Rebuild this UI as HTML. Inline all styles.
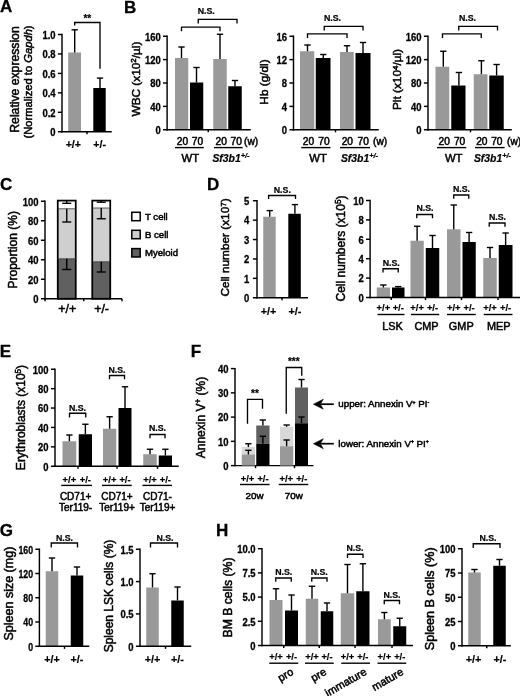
<!DOCTYPE html>
<html lang="en"><head><meta charset="utf-8"><title>Figure</title>
<style>
html,body{margin:0;padding:0;background:#fff;}
body{width:520px;height:696px;overflow:hidden;}
svg{display:block;font-family:"Liberation Sans",Arial,Helvetica,sans-serif;fill:#000;}
</style></head><body>
<svg width="520" height="696" viewBox="0 0 520 696">
<defs><filter id="soft" x="0" y="0" width="520" height="696" filterUnits="userSpaceOnUse"><feGaussianBlur stdDeviation="0.32"/></filter></defs>
<rect width="520" height="696" fill="#fff"/>
<g filter="url(#soft)">
<rect width="520" height="696" fill="#fff"/>
<rect x="68.20" y="52.50" width="12.80" height="79.25" fill="#999999"/>
<rect x="93.30" y="88.00" width="12.40" height="43.75" fill="#000000"/>
<rect x="175.00" y="58.00" width="13.25" height="71.75" fill="#999999"/>
<rect x="190.00" y="82.50" width="13.25" height="47.25" fill="#000000"/>
<rect x="213.25" y="59.00" width="13.50" height="70.75" fill="#999999"/>
<rect x="228.25" y="86.25" width="13.50" height="43.50" fill="#000000"/>
<rect x="300.00" y="51.25" width="14.25" height="78.50" fill="#999999"/>
<rect x="315.75" y="58.00" width="14.75" height="71.75" fill="#000000"/>
<rect x="340.00" y="52.00" width="13.75" height="77.75" fill="#999999"/>
<rect x="355.50" y="53.00" width="15.00" height="76.75" fill="#000000"/>
<rect x="435.50" y="66.75" width="13.75" height="63.00" fill="#999999"/>
<rect x="451.25" y="85.50" width="14.25" height="44.25" fill="#000000"/>
<rect x="473.75" y="74.25" width="13.75" height="55.50" fill="#999999"/>
<rect x="489.25" y="75.50" width="14.50" height="54.25" fill="#000000"/>
<rect x="263.25" y="216.75" width="12.45" height="81.00" fill="#999999"/>
<rect x="288.30" y="213.75" width="12.50" height="84.00" fill="#000000"/>
<rect x="376.75" y="287.50" width="13.25" height="10.00" fill="#999999"/>
<rect x="392.00" y="287.50" width="12.50" height="10.00" fill="#000000"/>
<rect x="410.50" y="240.75" width="13.25" height="56.75" fill="#999999"/>
<rect x="425.75" y="248.00" width="13.50" height="49.50" fill="#000000"/>
<rect x="447.00" y="229.25" width="13.50" height="68.25" fill="#999999"/>
<rect x="462.50" y="242.00" width="13.25" height="55.50" fill="#000000"/>
<rect x="483.25" y="258.00" width="13.50" height="39.50" fill="#999999"/>
<rect x="498.75" y="245.00" width="13.75" height="52.50" fill="#000000"/>
<rect x="62.50" y="441.25" width="13.75" height="25.00" fill="#999999"/>
<rect x="78.75" y="434.25" width="13.25" height="32.00" fill="#000000"/>
<rect x="103.00" y="428.75" width="13.25" height="37.50" fill="#999999"/>
<rect x="118.50" y="408.00" width="13.00" height="58.25" fill="#000000"/>
<rect x="143.25" y="454.25" width="13.50" height="12.00" fill="#999999"/>
<rect x="158.75" y="455.50" width="13.25" height="10.75" fill="#000000"/>
<rect x="45.75" y="571.25" width="12.50" height="75.00" fill="#999999"/>
<rect x="70.75" y="575.50" width="12.50" height="70.75" fill="#000000"/>
<rect x="146.25" y="587.50" width="12.50" height="58.75" fill="#999999"/>
<rect x="171.25" y="600.50" width="12.50" height="45.75" fill="#000000"/>
<rect x="269.50" y="600.00" width="13.00" height="45.50" fill="#999999"/>
<rect x="285.00" y="610.50" width="13.00" height="35.00" fill="#000000"/>
<rect x="305.75" y="598.75" width="12.50" height="46.75" fill="#999999"/>
<rect x="320.75" y="611.25" width="12.50" height="34.25" fill="#000000"/>
<rect x="340.75" y="593.25" width="13.50" height="52.25" fill="#999999"/>
<rect x="356.25" y="591.25" width="13.25" height="54.25" fill="#000000"/>
<rect x="378.00" y="619.25" width="12.75" height="26.25" fill="#999999"/>
<rect x="393.25" y="626.25" width="13.00" height="19.25" fill="#000000"/>
<rect x="468.25" y="572.50" width="12.50" height="73.25" fill="#999999"/>
<rect x="493.25" y="565.75" width="12.50" height="80.00" fill="#000000"/>
<text x="0.00" y="12.30" font-size="17" font-weight="bold" stroke="#000" stroke-width="0.3">A</text>
<text x="124.00" y="12.50" font-size="17" font-weight="bold" stroke="#000" stroke-width="0.3">B</text>
<text x="-0.10" y="189.70" font-size="17" font-weight="bold" stroke="#000" stroke-width="0.3">C</text>
<text x="206.90" y="189.70" font-size="17" font-weight="bold" stroke="#000" stroke-width="0.3">D</text>
<text x="-0.20" y="357.20" font-size="17" font-weight="bold" stroke="#000" stroke-width="0.3">E</text>
<text x="190.70" y="357.30" font-size="17" font-weight="bold" stroke="#000" stroke-width="0.3">F</text>
<text x="-0.20" y="536.30" font-size="17" font-weight="bold" stroke="#000" stroke-width="0.3">G</text>
<text x="215.90" y="536.40" font-size="17" font-weight="bold" stroke="#000" stroke-width="0.3">H</text>
<line x1="62.00" y1="33.77" x2="62.00" y2="132.47" stroke="#000" stroke-width="1.45"/>
<line x1="57.90" y1="34.50" x2="62.00" y2="34.50" stroke="#000" stroke-width="1.45"/>
<text transform="translate(55.60 38.79) scale(0.92 1)" font-size="10.3" text-anchor="end" font-weight="bold" stroke="#000" stroke-width="0.3">1.0</text>
<line x1="57.90" y1="53.95" x2="62.00" y2="53.95" stroke="#000" stroke-width="1.45"/>
<text transform="translate(55.60 58.24) scale(0.92 1)" font-size="10.3" text-anchor="end" font-weight="bold" stroke="#000" stroke-width="0.3">0.8</text>
<line x1="57.90" y1="73.40" x2="62.00" y2="73.40" stroke="#000" stroke-width="1.45"/>
<text transform="translate(55.60 77.69) scale(0.92 1)" font-size="10.3" text-anchor="end" font-weight="bold" stroke="#000" stroke-width="0.3">0.6</text>
<line x1="57.90" y1="92.85" x2="62.00" y2="92.85" stroke="#000" stroke-width="1.45"/>
<text transform="translate(55.60 97.14) scale(0.92 1)" font-size="10.3" text-anchor="end" font-weight="bold" stroke="#000" stroke-width="0.3">0.4</text>
<line x1="57.90" y1="112.30" x2="62.00" y2="112.30" stroke="#000" stroke-width="1.45"/>
<text transform="translate(55.60 116.59) scale(0.92 1)" font-size="10.3" text-anchor="end" font-weight="bold" stroke="#000" stroke-width="0.3">0.2</text>
<line x1="57.90" y1="131.75" x2="62.00" y2="131.75" stroke="#000" stroke-width="1.45"/>
<text transform="translate(55.60 136.04) scale(0.92 1)" font-size="10.3" text-anchor="end" font-weight="bold" stroke="#000" stroke-width="0.3">0</text>
<line x1="61.27" y1="131.75" x2="111.75" y2="131.75" stroke="#000" stroke-width="1.45"/>
<line x1="87.00" y1="131.75" x2="87.00" y2="134.35" stroke="#000" stroke-width="1.45"/>
<line x1="74.70" y1="29.80" x2="74.70" y2="52.50" stroke="#000" stroke-width="1.4"/>
<line x1="71.55" y1="29.80" x2="77.85" y2="29.80" stroke="#000" stroke-width="1.4"/>
<line x1="100.00" y1="78.10" x2="100.00" y2="88.00" stroke="#000" stroke-width="1.4"/>
<line x1="96.85" y1="78.10" x2="103.15" y2="78.10" stroke="#000" stroke-width="1.4"/>
<polyline points="74.70,25.60 74.70,22.50 100.00,22.50 100.00,68.70" fill="none" stroke="#000" stroke-width="1.35"/>
<text x="87.30" y="21.98" font-size="10" text-anchor="middle" font-weight="bold" font-style="normal" stroke="#000" stroke-width="0.2">**</text>
<text x="73.30" y="148.09" font-size="10.6" text-anchor="middle" font-weight="bold" font-style="normal" stroke="#000" stroke-width="0.2">+/+</text>
<text x="99.60" y="148.09" font-size="10.6" text-anchor="middle" font-weight="bold" font-style="normal" stroke="#000" stroke-width="0.2">+/-</text>
<text x="18.57" y="79.50" font-size="12.2" text-anchor="middle" stroke="#000" stroke-width="0.5" transform="rotate(-90 18.57 79.50)">Relative expression</text>
<text x="31.61" y="82.00" font-size="11.2" text-anchor="middle" stroke="#000" stroke-width="0.5" transform="rotate(-90 31.61 82.00)">(Normalized to <tspan font-style="italic">Gapdh</tspan>)</text>
<line x1="167.10" y1="35.52" x2="167.10" y2="130.47" stroke="#000" stroke-width="1.45"/>
<line x1="163.00" y1="129.75" x2="167.10" y2="129.75" stroke="#000" stroke-width="1.45"/>
<text transform="translate(160.70 134.04) scale(0.92 1)" font-size="10.3" text-anchor="end" font-weight="bold" stroke="#000" stroke-width="0.3">0</text>
<line x1="163.00" y1="106.38" x2="167.10" y2="106.38" stroke="#000" stroke-width="1.45"/>
<text transform="translate(160.70 110.66) scale(0.92 1)" font-size="10.3" text-anchor="end" font-weight="bold" stroke="#000" stroke-width="0.3">40</text>
<line x1="163.00" y1="83.00" x2="167.10" y2="83.00" stroke="#000" stroke-width="1.45"/>
<text transform="translate(160.70 87.29) scale(0.92 1)" font-size="10.3" text-anchor="end" font-weight="bold" stroke="#000" stroke-width="0.3">80</text>
<line x1="163.00" y1="59.62" x2="167.10" y2="59.62" stroke="#000" stroke-width="1.45"/>
<text transform="translate(160.70 63.91) scale(0.92 1)" font-size="10.3" text-anchor="end" font-weight="bold" stroke="#000" stroke-width="0.3">120</text>
<line x1="163.00" y1="36.25" x2="167.10" y2="36.25" stroke="#000" stroke-width="1.45"/>
<text transform="translate(160.70 40.54) scale(0.92 1)" font-size="10.3" text-anchor="end" font-weight="bold" stroke="#000" stroke-width="0.3">160</text>
<line x1="166.38" y1="129.75" x2="250.80" y2="129.75" stroke="#000" stroke-width="1.45"/>
<line x1="208.25" y1="129.75" x2="208.25" y2="132.35" stroke="#000" stroke-width="1.45"/>
<line x1="181.50" y1="47.00" x2="181.50" y2="58.00" stroke="#000" stroke-width="1.4"/>
<line x1="178.35" y1="47.00" x2="184.65" y2="47.00" stroke="#000" stroke-width="1.4"/>
<line x1="196.50" y1="67.50" x2="196.50" y2="82.50" stroke="#000" stroke-width="1.4"/>
<line x1="193.35" y1="67.50" x2="199.65" y2="67.50" stroke="#000" stroke-width="1.4"/>
<line x1="220.00" y1="34.25" x2="220.00" y2="59.00" stroke="#000" stroke-width="1.4"/>
<line x1="216.85" y1="34.25" x2="223.15" y2="34.25" stroke="#000" stroke-width="1.4"/>
<line x1="235.00" y1="80.50" x2="235.00" y2="86.25" stroke="#000" stroke-width="1.4"/>
<line x1="231.85" y1="80.50" x2="238.15" y2="80.50" stroke="#000" stroke-width="1.4"/>
<polyline points="181.50,31.25 181.50,27.10 220.00,27.10 220.00,31.25" fill="none" stroke="#000" stroke-width="1.35"/>
<polyline points="198.25,23.50 198.25,19.30 237.00,19.30 237.00,23.50" fill="none" stroke="#000" stroke-width="1.35"/>
<text x="206.25" y="13.65" font-size="8.8" text-anchor="middle" font-weight="bold" font-style="normal" stroke="#000" stroke-width="0.2">N.S.</text>
<text x="182.40" y="144.55" font-size="10.2" text-anchor="middle" font-weight="normal" font-style="normal" stroke="#000" stroke-width="0.5">20</text>
<text x="197.40" y="144.55" font-size="10.2" text-anchor="middle" font-weight="normal" font-style="normal" stroke="#000" stroke-width="0.5">70</text>
<text x="221.20" y="144.55" font-size="10.2" text-anchor="middle" font-weight="normal" font-style="normal" stroke="#000" stroke-width="0.5">20</text>
<text x="236.20" y="144.55" font-size="10.2" text-anchor="middle" font-weight="normal" font-style="normal" stroke="#000" stroke-width="0.5">70</text>
<text x="244.00" y="144.55" font-size="10.2" text-anchor="start" font-weight="normal" font-style="normal" stroke="#000" stroke-width="0.5">(w)</text>
<line x1="175.00" y1="147.60" x2="203.75" y2="147.60" stroke="#000" stroke-width="1.4"/>
<line x1="214.00" y1="147.60" x2="242.60" y2="147.60" stroke="#000" stroke-width="1.4"/>
<text x="190.30" y="162.05" font-size="11.3" text-anchor="middle" font-weight="normal" font-style="normal" stroke="#000" stroke-width="0.5">WT</text>
<text x="231.00" y="161.72" font-size="10.4" text-anchor="middle" font-weight="bold" font-style="italic" stroke="#000" stroke-width="0.2">Sf3b1<tspan font-size="72%" dy="-3.6">+/-</tspan></text>
<text x="140.12" y="79.00" font-size="11.8" text-anchor="middle" stroke="#000" stroke-width="0.5" transform="rotate(-90 140.12 79.00)">WBC (x10<tspan font-size="68%" dy="-3.8">2</tspan><tspan dy="3.8">/µl)</tspan></text>
<line x1="293.50" y1="35.52" x2="293.50" y2="130.47" stroke="#000" stroke-width="1.45"/>
<line x1="289.40" y1="129.75" x2="293.50" y2="129.75" stroke="#000" stroke-width="1.45"/>
<text transform="translate(287.10 134.04) scale(0.92 1)" font-size="10.3" text-anchor="end" font-weight="bold" stroke="#000" stroke-width="0.3">0</text>
<line x1="289.40" y1="106.38" x2="293.50" y2="106.38" stroke="#000" stroke-width="1.45"/>
<text transform="translate(287.10 110.66) scale(0.92 1)" font-size="10.3" text-anchor="end" font-weight="bold" stroke="#000" stroke-width="0.3">4</text>
<line x1="289.40" y1="83.00" x2="293.50" y2="83.00" stroke="#000" stroke-width="1.45"/>
<text transform="translate(287.10 87.29) scale(0.92 1)" font-size="10.3" text-anchor="end" font-weight="bold" stroke="#000" stroke-width="0.3">8</text>
<line x1="289.40" y1="59.62" x2="293.50" y2="59.62" stroke="#000" stroke-width="1.45"/>
<text transform="translate(287.10 63.91) scale(0.92 1)" font-size="10.3" text-anchor="end" font-weight="bold" stroke="#000" stroke-width="0.3">12</text>
<line x1="289.40" y1="36.25" x2="293.50" y2="36.25" stroke="#000" stroke-width="1.45"/>
<text transform="translate(287.10 40.54) scale(0.92 1)" font-size="10.3" text-anchor="end" font-weight="bold" stroke="#000" stroke-width="0.3">16</text>
<line x1="292.77" y1="129.75" x2="378.80" y2="129.75" stroke="#000" stroke-width="1.45"/>
<line x1="335.50" y1="129.75" x2="335.50" y2="132.35" stroke="#000" stroke-width="1.45"/>
<line x1="307.50" y1="45.00" x2="307.50" y2="51.25" stroke="#000" stroke-width="1.4"/>
<line x1="304.35" y1="45.00" x2="310.65" y2="45.00" stroke="#000" stroke-width="1.4"/>
<line x1="323.25" y1="54.50" x2="323.25" y2="58.00" stroke="#000" stroke-width="1.4"/>
<line x1="320.10" y1="54.50" x2="326.40" y2="54.50" stroke="#000" stroke-width="1.4"/>
<line x1="347.00" y1="45.75" x2="347.00" y2="52.00" stroke="#000" stroke-width="1.4"/>
<line x1="343.85" y1="45.75" x2="350.15" y2="45.75" stroke="#000" stroke-width="1.4"/>
<line x1="363.00" y1="42.50" x2="363.00" y2="53.00" stroke="#000" stroke-width="1.4"/>
<line x1="359.85" y1="42.50" x2="366.15" y2="42.50" stroke="#000" stroke-width="1.4"/>
<polyline points="307.50,38.00 307.50,33.80 347.00,33.80 347.00,38.00" fill="none" stroke="#000" stroke-width="1.35"/>
<polyline points="324.25,30.50 324.25,26.40 363.00,26.40 363.00,30.50" fill="none" stroke="#000" stroke-width="1.35"/>
<text x="332.50" y="21.15" font-size="8.8" text-anchor="middle" font-weight="bold" font-style="normal" stroke="#000" stroke-width="0.2">N.S.</text>
<text x="308.40" y="144.55" font-size="10.2" text-anchor="middle" font-weight="normal" font-style="normal" stroke="#000" stroke-width="0.5">20</text>
<text x="324.00" y="144.55" font-size="10.2" text-anchor="middle" font-weight="normal" font-style="normal" stroke="#000" stroke-width="0.5">70</text>
<text x="347.30" y="144.55" font-size="10.2" text-anchor="middle" font-weight="normal" font-style="normal" stroke="#000" stroke-width="0.5">20</text>
<text x="363.20" y="144.55" font-size="10.2" text-anchor="middle" font-weight="normal" font-style="normal" stroke="#000" stroke-width="0.5">70</text>
<text x="373.00" y="144.55" font-size="10.2" text-anchor="start" font-weight="normal" font-style="normal" stroke="#000" stroke-width="0.5">(w)</text>
<line x1="301.25" y1="147.60" x2="330.50" y2="147.60" stroke="#000" stroke-width="1.4"/>
<line x1="340.00" y1="147.60" x2="370.00" y2="147.60" stroke="#000" stroke-width="1.4"/>
<text x="318.05" y="162.05" font-size="11.3" text-anchor="middle" font-weight="normal" font-style="normal" stroke="#000" stroke-width="0.5">WT</text>
<text x="359.50" y="161.72" font-size="10.4" text-anchor="middle" font-weight="bold" font-style="italic" stroke="#000" stroke-width="0.2">Sf3b1<tspan font-size="72%" dy="-3.6">+/-</tspan></text>
<text x="268.32" y="82.00" font-size="11.8" text-anchor="middle" stroke="#000" stroke-width="0.5" transform="rotate(-90 268.32 82.00)">Hb (g/dl)</text>
<line x1="428.00" y1="35.52" x2="428.00" y2="130.47" stroke="#000" stroke-width="1.45"/>
<line x1="423.90" y1="129.75" x2="428.00" y2="129.75" stroke="#000" stroke-width="1.45"/>
<text transform="translate(421.60 134.04) scale(0.92 1)" font-size="10.3" text-anchor="end" font-weight="bold" stroke="#000" stroke-width="0.3">0</text>
<line x1="423.90" y1="106.38" x2="428.00" y2="106.38" stroke="#000" stroke-width="1.45"/>
<text transform="translate(421.60 110.66) scale(0.92 1)" font-size="10.3" text-anchor="end" font-weight="bold" stroke="#000" stroke-width="0.3">40</text>
<line x1="423.90" y1="83.00" x2="428.00" y2="83.00" stroke="#000" stroke-width="1.45"/>
<text transform="translate(421.60 87.29) scale(0.92 1)" font-size="10.3" text-anchor="end" font-weight="bold" stroke="#000" stroke-width="0.3">80</text>
<line x1="423.90" y1="59.62" x2="428.00" y2="59.62" stroke="#000" stroke-width="1.45"/>
<text transform="translate(421.60 63.91) scale(0.92 1)" font-size="10.3" text-anchor="end" font-weight="bold" stroke="#000" stroke-width="0.3">120</text>
<line x1="423.90" y1="36.25" x2="428.00" y2="36.25" stroke="#000" stroke-width="1.45"/>
<text transform="translate(421.60 40.54) scale(0.92 1)" font-size="10.3" text-anchor="end" font-weight="bold" stroke="#000" stroke-width="0.3">160</text>
<line x1="427.27" y1="129.75" x2="511.80" y2="129.75" stroke="#000" stroke-width="1.45"/>
<line x1="470.50" y1="129.75" x2="470.50" y2="132.35" stroke="#000" stroke-width="1.45"/>
<line x1="443.30" y1="51.25" x2="443.30" y2="66.75" stroke="#000" stroke-width="1.4"/>
<line x1="440.15" y1="51.25" x2="446.45" y2="51.25" stroke="#000" stroke-width="1.4"/>
<line x1="458.90" y1="72.50" x2="458.90" y2="85.50" stroke="#000" stroke-width="1.4"/>
<line x1="455.75" y1="72.50" x2="462.05" y2="72.50" stroke="#000" stroke-width="1.4"/>
<line x1="481.40" y1="60.75" x2="481.40" y2="74.25" stroke="#000" stroke-width="1.4"/>
<line x1="478.25" y1="60.75" x2="484.55" y2="60.75" stroke="#000" stroke-width="1.4"/>
<line x1="496.60" y1="64.50" x2="496.60" y2="75.50" stroke="#000" stroke-width="1.4"/>
<line x1="493.45" y1="64.50" x2="499.75" y2="64.50" stroke="#000" stroke-width="1.4"/>
<polyline points="442.50,38.00 442.50,33.80 481.25,33.80 481.25,38.00" fill="none" stroke="#000" stroke-width="1.35"/>
<polyline points="458.75,30.50 458.75,26.40 497.50,26.40 497.50,30.50" fill="none" stroke="#000" stroke-width="1.35"/>
<text x="467.50" y="21.15" font-size="8.8" text-anchor="middle" font-weight="bold" font-style="normal" stroke="#000" stroke-width="0.2">N.S.</text>
<text x="444.20" y="144.55" font-size="10.2" text-anchor="middle" font-weight="normal" font-style="normal" stroke="#000" stroke-width="0.5">20</text>
<text x="459.60" y="144.55" font-size="10.2" text-anchor="middle" font-weight="normal" font-style="normal" stroke="#000" stroke-width="0.5">70</text>
<text x="481.80" y="144.55" font-size="10.2" text-anchor="middle" font-weight="normal" font-style="normal" stroke="#000" stroke-width="0.5">20</text>
<text x="496.80" y="144.55" font-size="10.2" text-anchor="middle" font-weight="normal" font-style="normal" stroke="#000" stroke-width="0.5">70</text>
<text x="507.00" y="144.55" font-size="10.2" text-anchor="start" font-weight="normal" font-style="normal" stroke="#000" stroke-width="0.5">(w)</text>
<line x1="437.00" y1="147.60" x2="466.30" y2="147.60" stroke="#000" stroke-width="1.4"/>
<line x1="475.00" y1="147.60" x2="504.60" y2="147.60" stroke="#000" stroke-width="1.4"/>
<text x="453.70" y="162.05" font-size="11.3" text-anchor="middle" font-weight="normal" font-style="normal" stroke="#000" stroke-width="0.5">WT</text>
<text x="492.50" y="161.72" font-size="10.4" text-anchor="middle" font-weight="bold" font-style="italic" stroke="#000" stroke-width="0.2">Sf3b1<tspan font-size="72%" dy="-3.6">+/-</tspan></text>
<text x="401.32" y="79.50" font-size="11.8" text-anchor="middle" stroke="#000" stroke-width="0.5" transform="rotate(-90 401.32 79.50)">Plt (x10<tspan font-size="68%" dy="-3.8">4</tspan><tspan dy="3.8">/µl)</tspan></text>
<line x1="45.00" y1="200.53" x2="45.00" y2="299.48" stroke="#000" stroke-width="1.45"/>
<line x1="40.90" y1="298.75" x2="45.00" y2="298.75" stroke="#000" stroke-width="1.45"/>
<text transform="translate(38.60 303.04) scale(0.92 1)" font-size="10.3" text-anchor="end" font-weight="bold" stroke="#000" stroke-width="0.3">0</text>
<line x1="40.90" y1="279.25" x2="45.00" y2="279.25" stroke="#000" stroke-width="1.45"/>
<text transform="translate(38.60 283.54) scale(0.92 1)" font-size="10.3" text-anchor="end" font-weight="bold" stroke="#000" stroke-width="0.3">20</text>
<line x1="40.90" y1="259.75" x2="45.00" y2="259.75" stroke="#000" stroke-width="1.45"/>
<text transform="translate(38.60 264.04) scale(0.92 1)" font-size="10.3" text-anchor="end" font-weight="bold" stroke="#000" stroke-width="0.3">40</text>
<line x1="40.90" y1="240.25" x2="45.00" y2="240.25" stroke="#000" stroke-width="1.45"/>
<text transform="translate(38.60 244.54) scale(0.92 1)" font-size="10.3" text-anchor="end" font-weight="bold" stroke="#000" stroke-width="0.3">60</text>
<line x1="40.90" y1="220.75" x2="45.00" y2="220.75" stroke="#000" stroke-width="1.45"/>
<text transform="translate(38.60 225.04) scale(0.92 1)" font-size="10.3" text-anchor="end" font-weight="bold" stroke="#000" stroke-width="0.3">80</text>
<line x1="40.90" y1="201.25" x2="45.00" y2="201.25" stroke="#000" stroke-width="1.45"/>
<text transform="translate(38.60 205.54) scale(0.92 1)" font-size="10.3" text-anchor="end" font-weight="bold" stroke="#000" stroke-width="0.3">100</text>
<line x1="44.27" y1="298.75" x2="122.00" y2="298.75" stroke="#000" stroke-width="1.45"/>
<line x1="45.00" y1="298.75" x2="45.00" y2="301.35" stroke="#000" stroke-width="1.45"/>
<line x1="83.75" y1="298.75" x2="83.75" y2="301.35" stroke="#000" stroke-width="1.45"/>
<line x1="122.00" y1="298.75" x2="122.00" y2="301.35" stroke="#000" stroke-width="1.45"/>
<rect x="57.75" y="258.75" width="18.00" height="40.00" fill="#606060"/>
<rect x="57.75" y="208.75" width="18.00" height="50.00" fill="#cfcfcf"/>
<rect x="57.75" y="200.60" width="18.00" height="8.15" fill="#fff"/>
<rect x="57.75" y="200.60" width="18.00" height="98.15" fill="none" stroke="#000" stroke-width="1.75"/>
<line x1="57.75" y1="258.75" x2="75.75" y2="258.75" stroke="#333" stroke-width="0.8"/>
<line x1="57.75" y1="208.75" x2="75.75" y2="208.75" stroke="#333" stroke-width="0.8"/>
<line x1="66.75" y1="258.75" x2="66.75" y2="269.50" stroke="#000" stroke-width="1.4"/>
<line x1="62.25" y1="269.50" x2="71.25" y2="269.50" stroke="#000" stroke-width="1.4"/>
<line x1="66.75" y1="208.75" x2="66.75" y2="222.00" stroke="#000" stroke-width="1.4"/>
<line x1="62.25" y1="222.00" x2="71.25" y2="222.00" stroke="#000" stroke-width="1.4"/>
<line x1="66.75" y1="200.60" x2="66.75" y2="203.30" stroke="#000" stroke-width="1.4"/>
<line x1="62.25" y1="203.30" x2="71.25" y2="203.30" stroke="#000" stroke-width="1.4"/>
<rect x="92.25" y="261.75" width="18.00" height="37.00" fill="#606060"/>
<rect x="92.25" y="208.00" width="18.00" height="53.75" fill="#cfcfcf"/>
<rect x="92.25" y="200.60" width="18.00" height="7.40" fill="#fff"/>
<rect x="92.25" y="200.60" width="18.00" height="98.15" fill="none" stroke="#000" stroke-width="1.75"/>
<line x1="92.25" y1="261.75" x2="110.25" y2="261.75" stroke="#333" stroke-width="0.8"/>
<line x1="92.25" y1="208.00" x2="110.25" y2="208.00" stroke="#333" stroke-width="0.8"/>
<line x1="101.25" y1="261.75" x2="101.25" y2="272.00" stroke="#000" stroke-width="1.4"/>
<line x1="96.75" y1="272.00" x2="105.75" y2="272.00" stroke="#000" stroke-width="1.4"/>
<line x1="101.25" y1="208.00" x2="101.25" y2="218.75" stroke="#000" stroke-width="1.4"/>
<line x1="96.75" y1="218.75" x2="105.75" y2="218.75" stroke="#000" stroke-width="1.4"/>
<line x1="101.25" y1="200.60" x2="101.25" y2="202.20" stroke="#000" stroke-width="1.4"/>
<line x1="96.75" y1="202.20" x2="105.75" y2="202.20" stroke="#000" stroke-width="1.4"/>
<text x="67.20" y="313.40" font-size="12.3" text-anchor="middle" font-weight="normal" font-style="normal" stroke="#000" stroke-width="0.5">+/+</text>
<text x="101.60" y="313.40" font-size="12.3" text-anchor="middle" font-weight="normal" font-style="normal" stroke="#000" stroke-width="0.5">+/-</text>
<text x="16.80" y="249.80" font-size="12" text-anchor="middle" stroke="#000" stroke-width="0.5" transform="rotate(-90 16.80 249.80)">Proportion (%)</text>
<rect x="131.8" y="212.3" width="8.4" height="8.4" fill="#fff" stroke="#000" stroke-width="1.5"/>
<text x="145.00" y="220.04" font-size="9.6" text-anchor="start" font-weight="normal" font-style="normal" stroke="#000" stroke-width="0.5">T cell</text>
<rect x="131.8" y="230.3" width="8.4" height="8.4" fill="#cfcfcf" stroke="#000" stroke-width="1.5"/>
<text x="145.00" y="238.04" font-size="9.6" text-anchor="start" font-weight="normal" font-style="normal" stroke="#000" stroke-width="0.5">B cell</text>
<rect x="131.8" y="248.6" width="8.4" height="8.4" fill="#606060" stroke="#000" stroke-width="1.5"/>
<text x="145.00" y="256.44" font-size="9.6" text-anchor="start" font-weight="normal" font-style="normal" stroke="#000" stroke-width="0.5">Myeloid</text>
<line x1="257.00" y1="200.03" x2="257.00" y2="298.48" stroke="#000" stroke-width="1.45"/>
<line x1="252.90" y1="297.75" x2="257.00" y2="297.75" stroke="#000" stroke-width="1.45"/>
<text transform="translate(249.30 302.04) scale(0.92 1)" font-size="10.3" text-anchor="end" font-weight="bold" stroke="#000" stroke-width="0.3">0</text>
<line x1="252.90" y1="278.35" x2="257.00" y2="278.35" stroke="#000" stroke-width="1.45"/>
<text transform="translate(249.30 282.64) scale(0.92 1)" font-size="10.3" text-anchor="end" font-weight="bold" stroke="#000" stroke-width="0.3">1</text>
<line x1="252.90" y1="258.95" x2="257.00" y2="258.95" stroke="#000" stroke-width="1.45"/>
<text transform="translate(249.30 263.24) scale(0.92 1)" font-size="10.3" text-anchor="end" font-weight="bold" stroke="#000" stroke-width="0.3">2</text>
<line x1="252.90" y1="239.55" x2="257.00" y2="239.55" stroke="#000" stroke-width="1.45"/>
<text transform="translate(249.30 243.84) scale(0.92 1)" font-size="10.3" text-anchor="end" font-weight="bold" stroke="#000" stroke-width="0.3">3</text>
<line x1="252.90" y1="220.15" x2="257.00" y2="220.15" stroke="#000" stroke-width="1.45"/>
<text transform="translate(249.30 224.44) scale(0.92 1)" font-size="10.3" text-anchor="end" font-weight="bold" stroke="#000" stroke-width="0.3">4</text>
<line x1="252.90" y1="200.75" x2="257.00" y2="200.75" stroke="#000" stroke-width="1.45"/>
<text transform="translate(249.30 205.04) scale(0.92 1)" font-size="10.3" text-anchor="end" font-weight="bold" stroke="#000" stroke-width="0.3">5</text>
<line x1="256.57" y1="297.75" x2="308.00" y2="297.75" stroke="#000" stroke-width="1.45"/>
<line x1="282.00" y1="297.75" x2="282.00" y2="300.35" stroke="#000" stroke-width="1.45"/>
<line x1="269.70" y1="210.60" x2="269.70" y2="216.75" stroke="#000" stroke-width="1.4"/>
<line x1="266.55" y1="210.60" x2="272.85" y2="210.60" stroke="#000" stroke-width="1.4"/>
<line x1="294.90" y1="204.60" x2="294.90" y2="213.75" stroke="#000" stroke-width="1.4"/>
<line x1="291.75" y1="204.60" x2="298.05" y2="204.60" stroke="#000" stroke-width="1.4"/>
<polyline points="268.60,199.00 268.60,195.50 295.50,195.50 295.50,199.00" fill="none" stroke="#000" stroke-width="1.35"/>
<text x="282.30" y="192.85" font-size="8.8" text-anchor="middle" font-weight="bold" font-style="normal" stroke="#000" stroke-width="0.2">N.S.</text>
<text x="268.50" y="314.62" font-size="10.8" text-anchor="middle" font-weight="bold" font-style="normal" stroke="#000" stroke-width="0.2">+/+</text>
<text x="295.00" y="314.62" font-size="10.8" text-anchor="middle" font-weight="bold" font-style="normal" stroke="#000" stroke-width="0.2">+/-</text>
<text x="229.42" y="247.50" font-size="11.8" text-anchor="middle" stroke="#000" stroke-width="0.5" transform="rotate(-90 229.42 247.50)">Cell number (x10<tspan font-size="68%" dy="-3.8">7</tspan><tspan dy="3.8">)</tspan></text>
<line x1="370.10" y1="199.78" x2="370.10" y2="298.23" stroke="#000" stroke-width="1.45"/>
<line x1="366.00" y1="297.50" x2="370.10" y2="297.50" stroke="#000" stroke-width="1.45"/>
<text transform="translate(363.70 301.79) scale(0.92 1)" font-size="10.3" text-anchor="end" font-weight="bold" stroke="#000" stroke-width="0.3">0</text>
<line x1="366.00" y1="278.10" x2="370.10" y2="278.10" stroke="#000" stroke-width="1.45"/>
<text transform="translate(363.70 282.39) scale(0.92 1)" font-size="10.3" text-anchor="end" font-weight="bold" stroke="#000" stroke-width="0.3">2</text>
<line x1="366.00" y1="258.70" x2="370.10" y2="258.70" stroke="#000" stroke-width="1.45"/>
<text transform="translate(363.70 262.99) scale(0.92 1)" font-size="10.3" text-anchor="end" font-weight="bold" stroke="#000" stroke-width="0.3">4</text>
<line x1="366.00" y1="239.30" x2="370.10" y2="239.30" stroke="#000" stroke-width="1.45"/>
<text transform="translate(363.70 243.59) scale(0.92 1)" font-size="10.3" text-anchor="end" font-weight="bold" stroke="#000" stroke-width="0.3">6</text>
<line x1="366.00" y1="219.90" x2="370.10" y2="219.90" stroke="#000" stroke-width="1.45"/>
<text transform="translate(363.70 224.19) scale(0.92 1)" font-size="10.3" text-anchor="end" font-weight="bold" stroke="#000" stroke-width="0.3">8</text>
<line x1="366.00" y1="200.50" x2="370.10" y2="200.50" stroke="#000" stroke-width="1.45"/>
<text transform="translate(363.70 204.79) scale(0.92 1)" font-size="10.3" text-anchor="end" font-weight="bold" stroke="#000" stroke-width="0.3">10</text>
<line x1="369.38" y1="297.50" x2="520.00" y2="297.50" stroke="#000" stroke-width="1.45"/>
<line x1="391.25" y1="297.50" x2="391.25" y2="300.10" stroke="#000" stroke-width="1.45"/>
<line x1="425.50" y1="297.50" x2="425.50" y2="300.10" stroke="#000" stroke-width="1.45"/>
<line x1="461.50" y1="297.50" x2="461.50" y2="300.10" stroke="#000" stroke-width="1.45"/>
<line x1="498.00" y1="297.50" x2="498.00" y2="300.10" stroke="#000" stroke-width="1.45"/>
<line x1="383.38" y1="285.00" x2="383.38" y2="287.50" stroke="#000" stroke-width="1.4"/>
<line x1="380.23" y1="285.00" x2="386.52" y2="285.00" stroke="#000" stroke-width="1.4"/>
<line x1="398.25" y1="286.60" x2="398.25" y2="287.50" stroke="#000" stroke-width="1.4"/>
<line x1="395.10" y1="286.60" x2="401.40" y2="286.60" stroke="#000" stroke-width="1.4"/>
<polyline points="383.00,272.50 383.00,268.75 398.25,268.75 398.25,272.50" fill="none" stroke="#000" stroke-width="1.35"/>
<text x="391.25" y="266.15" font-size="8.8" text-anchor="middle" font-weight="bold" font-style="normal" stroke="#000" stroke-width="0.2">N.S.</text>
<text x="383.38" y="310.97" font-size="9.4" text-anchor="middle" font-weight="bold" font-style="normal" stroke="#000" stroke-width="0.2">+/+</text>
<text x="398.25" y="310.97" font-size="9.4" text-anchor="middle" font-weight="bold" font-style="normal" stroke="#000" stroke-width="0.2">+/-</text>
<line x1="377.50" y1="314.50" x2="404.50" y2="314.50" stroke="#000" stroke-width="1.4"/>
<text x="392.50" y="329.70" font-size="10.9" text-anchor="middle" font-weight="normal" font-style="normal" stroke="#000" stroke-width="0.5">LSK</text>
<line x1="417.12" y1="226.25" x2="417.12" y2="240.75" stroke="#000" stroke-width="1.4"/>
<line x1="413.98" y1="226.25" x2="420.27" y2="226.25" stroke="#000" stroke-width="1.4"/>
<line x1="432.50" y1="235.50" x2="432.50" y2="248.00" stroke="#000" stroke-width="1.4"/>
<line x1="429.35" y1="235.50" x2="435.65" y2="235.50" stroke="#000" stroke-width="1.4"/>
<polyline points="416.75,218.25 416.75,214.50 432.50,214.50 432.50,218.25" fill="none" stroke="#000" stroke-width="1.35"/>
<text x="425.00" y="211.15" font-size="8.8" text-anchor="middle" font-weight="bold" font-style="normal" stroke="#000" stroke-width="0.2">N.S.</text>
<text x="417.12" y="310.97" font-size="9.4" text-anchor="middle" font-weight="bold" font-style="normal" stroke="#000" stroke-width="0.2">+/+</text>
<text x="432.50" y="310.97" font-size="9.4" text-anchor="middle" font-weight="bold" font-style="normal" stroke="#000" stroke-width="0.2">+/-</text>
<line x1="411.00" y1="314.50" x2="439.25" y2="314.50" stroke="#000" stroke-width="1.4"/>
<text x="426.50" y="329.70" font-size="10.9" text-anchor="middle" font-weight="normal" font-style="normal" stroke="#000" stroke-width="0.5">CMP</text>
<line x1="453.75" y1="205.00" x2="453.75" y2="229.25" stroke="#000" stroke-width="1.4"/>
<line x1="450.60" y1="205.00" x2="456.90" y2="205.00" stroke="#000" stroke-width="1.4"/>
<line x1="469.12" y1="232.50" x2="469.12" y2="242.00" stroke="#000" stroke-width="1.4"/>
<line x1="465.98" y1="232.50" x2="472.27" y2="232.50" stroke="#000" stroke-width="1.4"/>
<polyline points="453.75,198.75 453.75,195.00 468.75,195.00 468.75,198.75" fill="none" stroke="#000" stroke-width="1.35"/>
<text x="461.50" y="191.90" font-size="8.8" text-anchor="middle" font-weight="bold" font-style="normal" stroke="#000" stroke-width="0.2">N.S.</text>
<text x="453.75" y="310.97" font-size="9.4" text-anchor="middle" font-weight="bold" font-style="normal" stroke="#000" stroke-width="0.2">+/+</text>
<text x="469.12" y="310.97" font-size="9.4" text-anchor="middle" font-weight="bold" font-style="normal" stroke="#000" stroke-width="0.2">+/-</text>
<line x1="447.00" y1="314.50" x2="475.75" y2="314.50" stroke="#000" stroke-width="1.4"/>
<text x="461.25" y="329.70" font-size="10.9" text-anchor="middle" font-weight="normal" font-style="normal" stroke="#000" stroke-width="0.5">GMP</text>
<line x1="490.00" y1="247.50" x2="490.00" y2="258.00" stroke="#000" stroke-width="1.4"/>
<line x1="486.85" y1="247.50" x2="493.15" y2="247.50" stroke="#000" stroke-width="1.4"/>
<line x1="505.62" y1="233.00" x2="505.62" y2="245.00" stroke="#000" stroke-width="1.4"/>
<line x1="502.48" y1="233.00" x2="508.77" y2="233.00" stroke="#000" stroke-width="1.4"/>
<polyline points="489.25,226.75 489.25,223.00 505.00,223.00 505.00,226.75" fill="none" stroke="#000" stroke-width="1.35"/>
<text x="497.50" y="220.15" font-size="8.8" text-anchor="middle" font-weight="bold" font-style="normal" stroke="#000" stroke-width="0.2">N.S.</text>
<text x="490.00" y="310.97" font-size="9.4" text-anchor="middle" font-weight="bold" font-style="normal" stroke="#000" stroke-width="0.2">+/+</text>
<text x="505.62" y="310.97" font-size="9.4" text-anchor="middle" font-weight="bold" font-style="normal" stroke="#000" stroke-width="0.2">+/-</text>
<line x1="483.75" y1="314.50" x2="512.50" y2="314.50" stroke="#000" stroke-width="1.4"/>
<text x="498.75" y="329.70" font-size="10.9" text-anchor="middle" font-weight="normal" font-style="normal" stroke="#000" stroke-width="0.5">MEP</text>
<text x="344.60" y="248.50" font-size="12" text-anchor="middle" stroke="#000" stroke-width="0.5" transform="rotate(-90 344.60 248.50)">Cell numbers (x10<tspan font-size="68%" dy="-3.8">5</tspan><tspan dy="3.8">)</tspan></text>
<line x1="55.00" y1="368.52" x2="55.00" y2="466.98" stroke="#000" stroke-width="1.45"/>
<line x1="50.90" y1="466.25" x2="55.00" y2="466.25" stroke="#000" stroke-width="1.45"/>
<text transform="translate(48.60 470.54) scale(0.92 1)" font-size="10.3" text-anchor="end" font-weight="bold" stroke="#000" stroke-width="0.3">0</text>
<line x1="50.90" y1="446.85" x2="55.00" y2="446.85" stroke="#000" stroke-width="1.45"/>
<text transform="translate(48.60 451.14) scale(0.92 1)" font-size="10.3" text-anchor="end" font-weight="bold" stroke="#000" stroke-width="0.3">20</text>
<line x1="50.90" y1="427.45" x2="55.00" y2="427.45" stroke="#000" stroke-width="1.45"/>
<text transform="translate(48.60 431.74) scale(0.92 1)" font-size="10.3" text-anchor="end" font-weight="bold" stroke="#000" stroke-width="0.3">40</text>
<line x1="50.90" y1="408.05" x2="55.00" y2="408.05" stroke="#000" stroke-width="1.45"/>
<text transform="translate(48.60 412.34) scale(0.92 1)" font-size="10.3" text-anchor="end" font-weight="bold" stroke="#000" stroke-width="0.3">60</text>
<line x1="50.90" y1="388.65" x2="55.00" y2="388.65" stroke="#000" stroke-width="1.45"/>
<text transform="translate(48.60 392.94) scale(0.92 1)" font-size="10.3" text-anchor="end" font-weight="bold" stroke="#000" stroke-width="0.3">80</text>
<line x1="50.90" y1="369.25" x2="55.00" y2="369.25" stroke="#000" stroke-width="1.45"/>
<text transform="translate(48.60 373.54) scale(0.92 1)" font-size="10.3" text-anchor="end" font-weight="bold" stroke="#000" stroke-width="0.3">100</text>
<line x1="54.27" y1="466.25" x2="178.75" y2="466.25" stroke="#000" stroke-width="1.45"/>
<line x1="78.00" y1="466.25" x2="78.00" y2="468.85" stroke="#000" stroke-width="1.45"/>
<line x1="117.00" y1="466.25" x2="117.00" y2="468.85" stroke="#000" stroke-width="1.45"/>
<line x1="157.50" y1="466.25" x2="157.50" y2="468.85" stroke="#000" stroke-width="1.45"/>
<line x1="69.38" y1="435.00" x2="69.38" y2="441.25" stroke="#000" stroke-width="1.4"/>
<line x1="66.22" y1="435.00" x2="72.53" y2="435.00" stroke="#000" stroke-width="1.4"/>
<line x1="85.38" y1="424.25" x2="85.38" y2="434.25" stroke="#000" stroke-width="1.4"/>
<line x1="82.22" y1="424.25" x2="88.53" y2="424.25" stroke="#000" stroke-width="1.4"/>
<polyline points="69.50,417.50 69.50,413.25 85.75,413.25 85.75,417.50" fill="none" stroke="#000" stroke-width="1.35"/>
<text x="77.50" y="411.15" font-size="8.8" text-anchor="middle" font-weight="bold" font-style="normal" stroke="#000" stroke-width="0.2">N.S.</text>
<text x="69.38" y="482.77" font-size="9.4" text-anchor="middle" font-weight="bold" font-style="normal" stroke="#000" stroke-width="0.2">+/+</text>
<text x="85.38" y="482.77" font-size="9.4" text-anchor="middle" font-weight="bold" font-style="normal" stroke="#000" stroke-width="0.2">+/-</text>
<line x1="61.25" y1="485.40" x2="92.00" y2="485.40" stroke="#000" stroke-width="1.4"/>
<text x="75.60" y="500.48" font-size="10" text-anchor="middle" font-weight="normal" font-style="normal" stroke="#000" stroke-width="0.5">CD71+</text>
<text x="75.60" y="510.78" font-size="10" text-anchor="middle" font-weight="normal" font-style="normal" stroke="#000" stroke-width="0.5">Ter119-</text>
<line x1="109.62" y1="416.75" x2="109.62" y2="428.75" stroke="#000" stroke-width="1.4"/>
<line x1="106.47" y1="416.75" x2="112.78" y2="416.75" stroke="#000" stroke-width="1.4"/>
<line x1="125.00" y1="386.75" x2="125.00" y2="408.00" stroke="#000" stroke-width="1.4"/>
<line x1="121.85" y1="386.75" x2="128.15" y2="386.75" stroke="#000" stroke-width="1.4"/>
<polyline points="109.50,379.25 109.50,375.50 124.50,375.50 124.50,379.25" fill="none" stroke="#000" stroke-width="1.35"/>
<text x="117.00" y="373.15" font-size="8.8" text-anchor="middle" font-weight="bold" font-style="normal" stroke="#000" stroke-width="0.2">N.S.</text>
<text x="109.62" y="482.77" font-size="9.4" text-anchor="middle" font-weight="bold" font-style="normal" stroke="#000" stroke-width="0.2">+/+</text>
<text x="125.00" y="482.77" font-size="9.4" text-anchor="middle" font-weight="bold" font-style="normal" stroke="#000" stroke-width="0.2">+/-</text>
<line x1="102.00" y1="485.40" x2="131.75" y2="485.40" stroke="#000" stroke-width="1.4"/>
<text x="117.00" y="500.48" font-size="10" text-anchor="middle" font-weight="normal" font-style="normal" stroke="#000" stroke-width="0.5">CD71+</text>
<text x="117.00" y="510.78" font-size="10" text-anchor="middle" font-weight="normal" font-style="normal" stroke="#000" stroke-width="0.5">Ter119+</text>
<line x1="150.00" y1="449.25" x2="150.00" y2="454.25" stroke="#000" stroke-width="1.4"/>
<line x1="146.85" y1="449.25" x2="153.15" y2="449.25" stroke="#000" stroke-width="1.4"/>
<line x1="165.38" y1="449.25" x2="165.38" y2="455.50" stroke="#000" stroke-width="1.4"/>
<line x1="162.22" y1="449.25" x2="168.53" y2="449.25" stroke="#000" stroke-width="1.4"/>
<polyline points="150.00,438.25 150.00,434.50 165.00,434.50 165.00,438.25" fill="none" stroke="#000" stroke-width="1.35"/>
<text x="157.50" y="431.40" font-size="8.8" text-anchor="middle" font-weight="bold" font-style="normal" stroke="#000" stroke-width="0.2">N.S.</text>
<text x="150.00" y="482.77" font-size="9.4" text-anchor="middle" font-weight="bold" font-style="normal" stroke="#000" stroke-width="0.2">+/+</text>
<text x="165.38" y="482.77" font-size="9.4" text-anchor="middle" font-weight="bold" font-style="normal" stroke="#000" stroke-width="0.2">+/-</text>
<line x1="142.50" y1="485.40" x2="172.00" y2="485.40" stroke="#000" stroke-width="1.4"/>
<text x="157.50" y="500.48" font-size="10" text-anchor="middle" font-weight="normal" font-style="normal" stroke="#000" stroke-width="0.5">CD71-</text>
<text x="157.50" y="510.78" font-size="10" text-anchor="middle" font-weight="normal" font-style="normal" stroke="#000" stroke-width="0.5">Ter119+</text>
<text x="24.50" y="417.50" font-size="12" text-anchor="middle" stroke="#000" stroke-width="0.5" transform="rotate(-90 24.50 417.50)">Erythroblasts (x10<tspan font-size="68%" dy="-3.8">5</tspan><tspan dy="3.8">)</tspan></text>
<line x1="235.00" y1="367.88" x2="235.00" y2="466.33" stroke="#000" stroke-width="1.45"/>
<line x1="230.90" y1="465.60" x2="235.00" y2="465.60" stroke="#000" stroke-width="1.45"/>
<text transform="translate(228.60 469.89) scale(0.92 1)" font-size="10.3" text-anchor="end" font-weight="bold" stroke="#000" stroke-width="0.3">0</text>
<line x1="230.90" y1="441.35" x2="235.00" y2="441.35" stroke="#000" stroke-width="1.45"/>
<text transform="translate(228.60 445.64) scale(0.92 1)" font-size="10.3" text-anchor="end" font-weight="bold" stroke="#000" stroke-width="0.3">10</text>
<line x1="230.90" y1="417.10" x2="235.00" y2="417.10" stroke="#000" stroke-width="1.45"/>
<text transform="translate(228.60 421.39) scale(0.92 1)" font-size="10.3" text-anchor="end" font-weight="bold" stroke="#000" stroke-width="0.3">20</text>
<line x1="230.90" y1="392.85" x2="235.00" y2="392.85" stroke="#000" stroke-width="1.45"/>
<text transform="translate(228.60 397.14) scale(0.92 1)" font-size="10.3" text-anchor="end" font-weight="bold" stroke="#000" stroke-width="0.3">30</text>
<line x1="230.90" y1="368.60" x2="235.00" y2="368.60" stroke="#000" stroke-width="1.45"/>
<text transform="translate(228.60 372.89) scale(0.92 1)" font-size="10.3" text-anchor="end" font-weight="bold" stroke="#000" stroke-width="0.3">40</text>
<line x1="234.28" y1="465.60" x2="313.50" y2="465.60" stroke="#000" stroke-width="1.45"/>
<line x1="255.50" y1="465.60" x2="255.50" y2="468.20" stroke="#000" stroke-width="1.45"/>
<line x1="294.50" y1="465.60" x2="294.50" y2="468.20" stroke="#000" stroke-width="1.45"/>
<rect x="241.75" y="447.00" width="13.25" height="7.50" fill="#d8d8d8"/>
<rect x="241.75" y="454.50" width="13.25" height="11.10" fill="#999999"/>
<line x1="248.38" y1="450.30" x2="248.38" y2="454.50" stroke="#000" stroke-width="1.4"/>
<line x1="245.22" y1="450.30" x2="251.53" y2="450.30" stroke="#000" stroke-width="1.4"/>
<line x1="248.38" y1="443.75" x2="248.38" y2="447.00" stroke="#000" stroke-width="1.4"/>
<line x1="245.22" y1="443.75" x2="251.53" y2="443.75" stroke="#000" stroke-width="1.4"/>
<rect x="256.25" y="425.50" width="13.25" height="18.25" fill="#606060"/>
<rect x="256.25" y="443.75" width="13.25" height="21.85" fill="#000000"/>
<line x1="262.88" y1="436.25" x2="262.88" y2="443.75" stroke="#000" stroke-width="1.4"/>
<line x1="259.73" y1="436.25" x2="266.02" y2="436.25" stroke="#000" stroke-width="1.4"/>
<line x1="262.88" y1="420.00" x2="262.88" y2="425.50" stroke="#000" stroke-width="1.4"/>
<line x1="259.73" y1="420.00" x2="266.02" y2="420.00" stroke="#000" stroke-width="1.4"/>
<rect x="280.00" y="426.75" width="13.25" height="19.50" fill="#d8d8d8"/>
<rect x="280.00" y="446.25" width="13.25" height="19.35" fill="#999999"/>
<line x1="286.62" y1="440.00" x2="286.62" y2="446.25" stroke="#000" stroke-width="1.4"/>
<line x1="283.48" y1="440.00" x2="289.77" y2="440.00" stroke="#000" stroke-width="1.4"/>
<line x1="286.62" y1="425.00" x2="286.62" y2="426.75" stroke="#000" stroke-width="1.4"/>
<line x1="283.48" y1="425.00" x2="289.77" y2="425.00" stroke="#000" stroke-width="1.4"/>
<rect x="295.00" y="387.50" width="13.00" height="35.75" fill="#606060"/>
<rect x="295.00" y="423.25" width="13.00" height="42.35" fill="#000000"/>
<line x1="301.50" y1="417.00" x2="301.50" y2="423.25" stroke="#000" stroke-width="1.4"/>
<line x1="298.35" y1="417.00" x2="304.65" y2="417.00" stroke="#000" stroke-width="1.4"/>
<line x1="301.50" y1="379.50" x2="301.50" y2="387.50" stroke="#000" stroke-width="1.4"/>
<line x1="298.35" y1="379.50" x2="304.65" y2="379.50" stroke="#000" stroke-width="1.4"/>
<polyline points="247.50,423.75 247.50,399.40 262.50,399.40 262.50,408.75" fill="none" stroke="#000" stroke-width="1.35"/>
<polyline points="286.25,413.75 286.25,367.50 301.75,367.50 301.75,375.75" fill="none" stroke="#000" stroke-width="1.35"/>
<text x="255.00" y="397.18" font-size="10" text-anchor="middle" font-weight="bold" font-style="normal" stroke="#000" stroke-width="0.2">**</text>
<text x="293.75" y="365.18" font-size="10" text-anchor="middle" font-weight="bold" font-style="normal" stroke="#000" stroke-width="0.2">***</text>
<text x="247.50" y="481.67" font-size="9.4" text-anchor="middle" font-weight="bold" font-style="normal" stroke="#000" stroke-width="0.2">+/+</text>
<text x="263.00" y="481.67" font-size="9.4" text-anchor="middle" font-weight="bold" font-style="normal" stroke="#000" stroke-width="0.2">+/-</text>
<text x="286.25" y="481.67" font-size="9.4" text-anchor="middle" font-weight="bold" font-style="normal" stroke="#000" stroke-width="0.2">+/+</text>
<text x="301.75" y="481.67" font-size="9.4" text-anchor="middle" font-weight="bold" font-style="normal" stroke="#000" stroke-width="0.2">+/-</text>
<line x1="240.00" y1="484.50" x2="269.50" y2="484.50" stroke="#000" stroke-width="1.4"/>
<line x1="278.75" y1="484.50" x2="308.25" y2="484.50" stroke="#000" stroke-width="1.4"/>
<text x="254.50" y="498.51" font-size="9.8" text-anchor="middle" font-weight="normal" font-style="normal" stroke="#000" stroke-width="0.5">20w</text>
<text x="293.75" y="498.51" font-size="9.8" text-anchor="middle" font-weight="normal" font-style="normal" stroke="#000" stroke-width="0.5">70w</text>
<text x="205.10" y="417.50" font-size="12" text-anchor="middle" stroke="#000" stroke-width="0.5" transform="rotate(-90 205.10 417.50)">Annexin V<tspan font-size="68%" dy="-3.8">+</tspan><tspan dy="3.8"> (%)</tspan></text>
<path d="M313.4 404.2 L323.3 399.2 L320.4 404.2 L323.3 409.2 Z" fill="#000" stroke="#000" stroke-width="0.5" stroke-linejoin="round"/>
<line x1="320.00" y1="404.20" x2="333.80" y2="404.20" stroke="#000" stroke-width="1.7"/>
<path d="M313.4 443.7 L323.3 438.7 L320.4 443.7 L323.3 448.7 Z" fill="#000" stroke="#000" stroke-width="0.5" stroke-linejoin="round"/>
<line x1="320.00" y1="443.70" x2="333.80" y2="443.70" stroke="#000" stroke-width="1.7"/>
<text x="338.30" y="407.18" font-size="9.75" text-anchor="start" font-weight="normal" font-style="normal" stroke="#000" stroke-width="0.5">upper: Annexin V<tspan font-size="52%" dy="-3.6">+</tspan><tspan dy="3.6"> PI</tspan><tspan font-size="52%" dy="-3.6">-</tspan></text>
<text x="338.30" y="446.68" font-size="9.75" text-anchor="start" font-weight="normal" font-style="normal" stroke="#000" stroke-width="0.5">lower: Annexin V<tspan font-size="52%" dy="-3.6">+</tspan><tspan dy="3.6"> PI</tspan><tspan font-size="52%" dy="-3.6">+</tspan></text>
<line x1="39.40" y1="548.52" x2="39.40" y2="646.98" stroke="#000" stroke-width="1.45"/>
<line x1="35.30" y1="646.25" x2="39.40" y2="646.25" stroke="#000" stroke-width="1.45"/>
<text transform="translate(33.00 650.54) scale(0.85 1)" font-size="10.3" text-anchor="end" font-weight="bold" stroke="#000" stroke-width="0.3">0</text>
<line x1="35.30" y1="622.00" x2="39.40" y2="622.00" stroke="#000" stroke-width="1.45"/>
<text transform="translate(33.00 626.29) scale(0.85 1)" font-size="10.3" text-anchor="end" font-weight="bold" stroke="#000" stroke-width="0.3">40</text>
<line x1="35.30" y1="597.75" x2="39.40" y2="597.75" stroke="#000" stroke-width="1.45"/>
<text transform="translate(33.00 602.04) scale(0.85 1)" font-size="10.3" text-anchor="end" font-weight="bold" stroke="#000" stroke-width="0.3">80</text>
<line x1="35.30" y1="573.50" x2="39.40" y2="573.50" stroke="#000" stroke-width="1.45"/>
<text transform="translate(33.00 577.79) scale(0.85 1)" font-size="10.3" text-anchor="end" font-weight="bold" stroke="#000" stroke-width="0.3">120</text>
<line x1="35.30" y1="549.25" x2="39.40" y2="549.25" stroke="#000" stroke-width="1.45"/>
<text transform="translate(33.00 553.54) scale(0.85 1)" font-size="10.3" text-anchor="end" font-weight="bold" stroke="#000" stroke-width="0.3">160</text>
<line x1="38.67" y1="646.25" x2="89.25" y2="646.25" stroke="#000" stroke-width="1.45"/>
<line x1="64.50" y1="646.25" x2="64.50" y2="648.85" stroke="#000" stroke-width="1.45"/>
<line x1="52.00" y1="558.00" x2="52.00" y2="571.25" stroke="#000" stroke-width="1.4"/>
<line x1="48.85" y1="558.00" x2="55.15" y2="558.00" stroke="#000" stroke-width="1.4"/>
<line x1="77.00" y1="567.00" x2="77.00" y2="575.50" stroke="#000" stroke-width="1.4"/>
<line x1="73.85" y1="567.00" x2="80.15" y2="567.00" stroke="#000" stroke-width="1.4"/>
<polyline points="51.25,547.50 51.25,543.00 77.50,543.00 77.50,547.50" fill="none" stroke="#000" stroke-width="1.35"/>
<text x="64.50" y="540.75" font-size="8.8" text-anchor="middle" font-weight="bold" font-style="normal" stroke="#000" stroke-width="0.2">N.S.</text>
<text x="52.00" y="662.67" font-size="10.8" text-anchor="middle" font-weight="bold" font-style="normal" stroke="#000" stroke-width="0.2">+/+</text>
<text x="77.00" y="662.67" font-size="10.8" text-anchor="middle" font-weight="bold" font-style="normal" stroke="#000" stroke-width="0.2">+/-</text>
<text x="13.17" y="593.60" font-size="12.5" text-anchor="middle" stroke="#000" stroke-width="0.5" transform="rotate(-90 13.17 593.60)">Spleen size (mg)</text>
<line x1="140.00" y1="548.53" x2="140.00" y2="646.98" stroke="#000" stroke-width="1.45"/>
<line x1="135.90" y1="646.25" x2="140.00" y2="646.25" stroke="#000" stroke-width="1.45"/>
<text transform="translate(133.60 650.54) scale(0.92 1)" font-size="10.3" text-anchor="end" font-weight="bold" stroke="#000" stroke-width="0.3">0</text>
<line x1="135.90" y1="613.92" x2="140.00" y2="613.92" stroke="#000" stroke-width="1.45"/>
<text transform="translate(133.60 618.21) scale(0.92 1)" font-size="10.3" text-anchor="end" font-weight="bold" stroke="#000" stroke-width="0.3">0.5</text>
<line x1="135.90" y1="581.59" x2="140.00" y2="581.59" stroke="#000" stroke-width="1.45"/>
<text transform="translate(133.60 585.88) scale(0.92 1)" font-size="10.3" text-anchor="end" font-weight="bold" stroke="#000" stroke-width="0.3">1.0</text>
<line x1="135.90" y1="549.26" x2="140.00" y2="549.26" stroke="#000" stroke-width="1.45"/>
<text transform="translate(133.60 553.55) scale(0.92 1)" font-size="10.3" text-anchor="end" font-weight="bold" stroke="#000" stroke-width="0.3">1.5</text>
<line x1="139.28" y1="646.25" x2="191.25" y2="646.25" stroke="#000" stroke-width="1.45"/>
<line x1="165.50" y1="646.25" x2="165.50" y2="648.85" stroke="#000" stroke-width="1.45"/>
<line x1="152.50" y1="573.75" x2="152.50" y2="587.50" stroke="#000" stroke-width="1.4"/>
<line x1="149.35" y1="573.75" x2="155.65" y2="573.75" stroke="#000" stroke-width="1.4"/>
<line x1="177.50" y1="587.00" x2="177.50" y2="600.50" stroke="#000" stroke-width="1.4"/>
<line x1="174.35" y1="587.00" x2="180.65" y2="587.00" stroke="#000" stroke-width="1.4"/>
<polyline points="150.50,547.50 150.50,543.00 177.50,543.00 177.50,547.50" fill="none" stroke="#000" stroke-width="1.35"/>
<text x="165.00" y="541.15" font-size="8.8" text-anchor="middle" font-weight="bold" font-style="normal" stroke="#000" stroke-width="0.2">N.S.</text>
<text x="152.50" y="662.67" font-size="10.8" text-anchor="middle" font-weight="bold" font-style="normal" stroke="#000" stroke-width="0.2">+/+</text>
<text x="177.50" y="662.67" font-size="10.8" text-anchor="middle" font-weight="bold" font-style="normal" stroke="#000" stroke-width="0.2">+/-</text>
<text x="112.70" y="596.00" font-size="12" text-anchor="middle" stroke="#000" stroke-width="0.5" transform="rotate(-90 112.70 596.00)">Spleen LSK cells (%)</text>
<line x1="262.00" y1="547.98" x2="262.00" y2="646.23" stroke="#000" stroke-width="1.45"/>
<line x1="257.90" y1="645.50" x2="262.00" y2="645.50" stroke="#000" stroke-width="1.45"/>
<text transform="translate(255.60 649.79) scale(0.92 1)" font-size="10.3" text-anchor="end" font-weight="bold" stroke="#000" stroke-width="0.3">0</text>
<line x1="257.90" y1="621.30" x2="262.00" y2="621.30" stroke="#000" stroke-width="1.45"/>
<text transform="translate(255.60 625.59) scale(0.92 1)" font-size="10.3" text-anchor="end" font-weight="bold" stroke="#000" stroke-width="0.3">2.5</text>
<line x1="257.90" y1="597.10" x2="262.00" y2="597.10" stroke="#000" stroke-width="1.45"/>
<text transform="translate(255.60 601.39) scale(0.92 1)" font-size="10.3" text-anchor="end" font-weight="bold" stroke="#000" stroke-width="0.3">5.0</text>
<line x1="257.90" y1="572.90" x2="262.00" y2="572.90" stroke="#000" stroke-width="1.45"/>
<text transform="translate(255.60 577.19) scale(0.92 1)" font-size="10.3" text-anchor="end" font-weight="bold" stroke="#000" stroke-width="0.3">7.5</text>
<line x1="257.90" y1="548.70" x2="262.00" y2="548.70" stroke="#000" stroke-width="1.45"/>
<text transform="translate(255.60 552.99) scale(0.92 1)" font-size="10.3" text-anchor="end" font-weight="bold" stroke="#000" stroke-width="0.3">10.0</text>
<line x1="261.27" y1="645.50" x2="413.00" y2="645.50" stroke="#000" stroke-width="1.45"/>
<line x1="283.75" y1="645.50" x2="283.75" y2="648.10" stroke="#000" stroke-width="1.45"/>
<line x1="319.25" y1="645.50" x2="319.25" y2="648.10" stroke="#000" stroke-width="1.45"/>
<line x1="355.00" y1="645.50" x2="355.00" y2="648.10" stroke="#000" stroke-width="1.45"/>
<line x1="392.00" y1="645.50" x2="392.00" y2="648.10" stroke="#000" stroke-width="1.45"/>
<line x1="276.00" y1="588.75" x2="276.00" y2="600.00" stroke="#000" stroke-width="1.4"/>
<line x1="272.85" y1="588.75" x2="279.15" y2="588.75" stroke="#000" stroke-width="1.4"/>
<line x1="291.50" y1="595.00" x2="291.50" y2="610.50" stroke="#000" stroke-width="1.4"/>
<line x1="288.35" y1="595.00" x2="294.65" y2="595.00" stroke="#000" stroke-width="1.4"/>
<polyline points="275.75,581.75 275.75,578.00 291.25,578.00 291.25,581.75" fill="none" stroke="#000" stroke-width="1.35"/>
<text x="283.75" y="574.90" font-size="8.8" text-anchor="middle" font-weight="bold" font-style="normal" stroke="#000" stroke-width="0.2">N.S.</text>
<text x="276.00" y="659.67" font-size="9.4" text-anchor="middle" font-weight="bold" font-style="normal" stroke="#000" stroke-width="0.2">+/+</text>
<text x="291.50" y="659.67" font-size="9.4" text-anchor="middle" font-weight="bold" font-style="normal" stroke="#000" stroke-width="0.2">+/-</text>
<line x1="269.25" y1="663.20" x2="298.25" y2="663.20" stroke="#000" stroke-width="1.4"/>
<text x="294.25" y="674.00" font-size="11" text-anchor="end" font-weight="normal" font-style="normal" transform="rotate(-30 294.25 674.00)" stroke="#000" stroke-width="0.5">pro</text>
<line x1="312.00" y1="586.25" x2="312.00" y2="598.75" stroke="#000" stroke-width="1.4"/>
<line x1="308.85" y1="586.25" x2="315.15" y2="586.25" stroke="#000" stroke-width="1.4"/>
<line x1="327.00" y1="603.00" x2="327.00" y2="611.25" stroke="#000" stroke-width="1.4"/>
<line x1="323.85" y1="603.00" x2="330.15" y2="603.00" stroke="#000" stroke-width="1.4"/>
<polyline points="311.75,581.75 311.75,578.00 327.00,578.00 327.00,581.75" fill="none" stroke="#000" stroke-width="1.35"/>
<text x="319.25" y="574.65" font-size="8.8" text-anchor="middle" font-weight="bold" font-style="normal" stroke="#000" stroke-width="0.2">N.S.</text>
<text x="312.00" y="659.67" font-size="9.4" text-anchor="middle" font-weight="bold" font-style="normal" stroke="#000" stroke-width="0.2">+/+</text>
<text x="327.00" y="659.67" font-size="9.4" text-anchor="middle" font-weight="bold" font-style="normal" stroke="#000" stroke-width="0.2">+/-</text>
<line x1="305.00" y1="663.20" x2="333.75" y2="663.20" stroke="#000" stroke-width="1.4"/>
<text x="327.25" y="674.00" font-size="11" text-anchor="end" font-weight="normal" font-style="normal" transform="rotate(-30 327.25 674.00)" stroke="#000" stroke-width="0.5">pre</text>
<line x1="347.50" y1="564.50" x2="347.50" y2="593.25" stroke="#000" stroke-width="1.4"/>
<line x1="344.35" y1="564.50" x2="350.65" y2="564.50" stroke="#000" stroke-width="1.4"/>
<line x1="362.88" y1="563.75" x2="362.88" y2="591.25" stroke="#000" stroke-width="1.4"/>
<line x1="359.73" y1="563.75" x2="366.02" y2="563.75" stroke="#000" stroke-width="1.4"/>
<polyline points="347.50,558.00 347.50,554.25 363.00,554.25 363.00,558.00" fill="none" stroke="#000" stroke-width="1.35"/>
<text x="355.00" y="551.15" font-size="8.8" text-anchor="middle" font-weight="bold" font-style="normal" stroke="#000" stroke-width="0.2">N.S.</text>
<text x="347.50" y="659.67" font-size="9.4" text-anchor="middle" font-weight="bold" font-style="normal" stroke="#000" stroke-width="0.2">+/+</text>
<text x="362.88" y="659.67" font-size="9.4" text-anchor="middle" font-weight="bold" font-style="normal" stroke="#000" stroke-width="0.2">+/-</text>
<line x1="341.25" y1="663.20" x2="370.00" y2="663.20" stroke="#000" stroke-width="1.4"/>
<text x="367.50" y="674.00" font-size="11" text-anchor="end" font-weight="normal" font-style="normal" transform="rotate(-30 367.50 674.00)" stroke="#000" stroke-width="0.5">immature</text>
<line x1="384.38" y1="612.50" x2="384.38" y2="619.25" stroke="#000" stroke-width="1.4"/>
<line x1="381.23" y1="612.50" x2="387.52" y2="612.50" stroke="#000" stroke-width="1.4"/>
<line x1="399.75" y1="618.25" x2="399.75" y2="626.25" stroke="#000" stroke-width="1.4"/>
<line x1="396.60" y1="618.25" x2="402.90" y2="618.25" stroke="#000" stroke-width="1.4"/>
<polyline points="384.25,604.25 384.25,600.50 399.50,600.50 399.50,604.25" fill="none" stroke="#000" stroke-width="1.35"/>
<text x="392.00" y="598.15" font-size="8.8" text-anchor="middle" font-weight="bold" font-style="normal" stroke="#000" stroke-width="0.2">N.S.</text>
<text x="384.38" y="659.67" font-size="9.4" text-anchor="middle" font-weight="bold" font-style="normal" stroke="#000" stroke-width="0.2">+/+</text>
<text x="399.75" y="659.67" font-size="9.4" text-anchor="middle" font-weight="bold" font-style="normal" stroke="#000" stroke-width="0.2">+/-</text>
<line x1="377.50" y1="663.20" x2="406.25" y2="663.20" stroke="#000" stroke-width="1.4"/>
<text x="404.25" y="674.00" font-size="11" text-anchor="end" font-weight="normal" font-style="normal" transform="rotate(-30 404.25 674.00)" stroke="#000" stroke-width="0.5">mature</text>
<text x="232.07" y="597.50" font-size="12.2" text-anchor="middle" stroke="#000" stroke-width="0.5" transform="rotate(-90 232.07 597.50)">BM B cells (%)</text>
<line x1="462.00" y1="548.02" x2="462.00" y2="646.48" stroke="#000" stroke-width="1.45"/>
<line x1="457.90" y1="645.75" x2="462.00" y2="645.75" stroke="#000" stroke-width="1.45"/>
<text transform="translate(455.60 650.04) scale(0.92 1)" font-size="10.3" text-anchor="end" font-weight="bold" stroke="#000" stroke-width="0.3">0</text>
<line x1="457.90" y1="621.50" x2="462.00" y2="621.50" stroke="#000" stroke-width="1.45"/>
<text transform="translate(455.60 625.79) scale(0.92 1)" font-size="10.3" text-anchor="end" font-weight="bold" stroke="#000" stroke-width="0.3">25</text>
<line x1="457.90" y1="597.25" x2="462.00" y2="597.25" stroke="#000" stroke-width="1.45"/>
<text transform="translate(455.60 601.54) scale(0.92 1)" font-size="10.3" text-anchor="end" font-weight="bold" stroke="#000" stroke-width="0.3">50</text>
<line x1="457.90" y1="573.00" x2="462.00" y2="573.00" stroke="#000" stroke-width="1.45"/>
<text transform="translate(455.60 577.29) scale(0.92 1)" font-size="10.3" text-anchor="end" font-weight="bold" stroke="#000" stroke-width="0.3">75</text>
<line x1="457.90" y1="548.75" x2="462.00" y2="548.75" stroke="#000" stroke-width="1.45"/>
<text transform="translate(455.60 553.04) scale(0.92 1)" font-size="10.3" text-anchor="end" font-weight="bold" stroke="#000" stroke-width="0.3">100</text>
<line x1="461.27" y1="645.75" x2="510.80" y2="645.75" stroke="#000" stroke-width="1.45"/>
<line x1="486.75" y1="645.75" x2="486.75" y2="648.35" stroke="#000" stroke-width="1.45"/>
<line x1="474.50" y1="569.50" x2="474.50" y2="572.50" stroke="#000" stroke-width="1.4"/>
<line x1="471.35" y1="569.50" x2="477.65" y2="569.50" stroke="#000" stroke-width="1.4"/>
<line x1="499.50" y1="559.50" x2="499.50" y2="565.75" stroke="#000" stroke-width="1.4"/>
<line x1="496.35" y1="559.50" x2="502.65" y2="559.50" stroke="#000" stroke-width="1.4"/>
<polyline points="473.25,548.00 473.25,543.75 500.00,543.75 500.00,548.00" fill="none" stroke="#000" stroke-width="1.35"/>
<text x="488.00" y="541.15" font-size="8.8" text-anchor="middle" font-weight="bold" font-style="normal" stroke="#000" stroke-width="0.2">N.S.</text>
<text x="473.60" y="662.67" font-size="10.8" text-anchor="middle" font-weight="bold" font-style="normal" stroke="#000" stroke-width="0.2">+/+</text>
<text x="500.00" y="662.67" font-size="10.8" text-anchor="middle" font-weight="bold" font-style="normal" stroke="#000" stroke-width="0.2">+/-</text>
<text x="434.01" y="598.80" font-size="12.6" text-anchor="middle" stroke="#000" stroke-width="0.5" transform="rotate(-90 434.01 598.80)">Spleen B cells (%)</text>
</g>
</svg>
</body></html>
